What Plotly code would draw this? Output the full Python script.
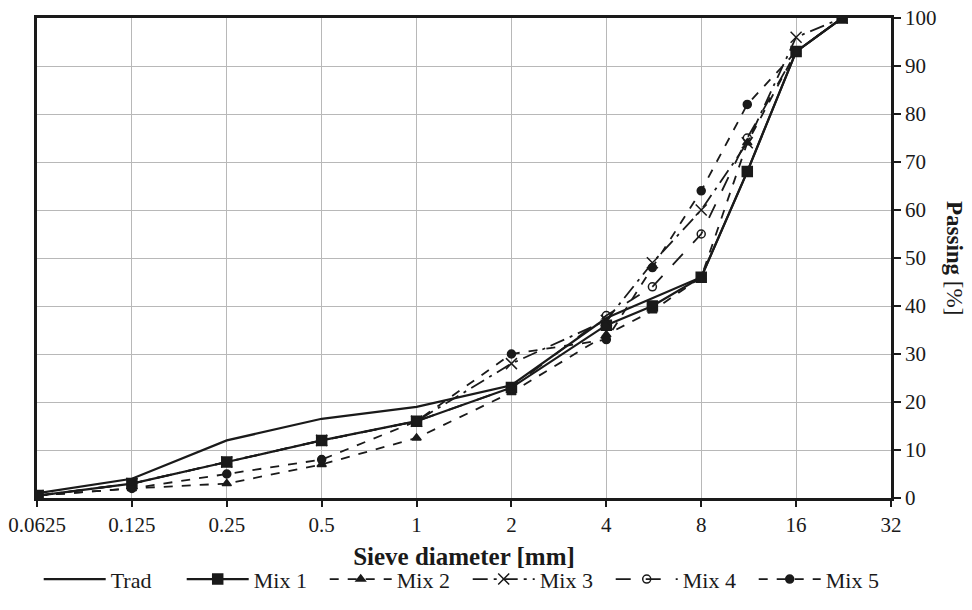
import plotly.graph_objects as go

sieve = [0.063, 0.125, 0.25, 0.5, 1, 2, 4, 5.6, 8, 11.2, 16, 22.4]
trad = [1, 4, 12, 16.5, 19, 23.5, 37.5, None, 46, 68, 93, 100]
mix1 = [0.5, 3, 7.5, 12, 16, 23, 36, 40, 46, 68, 93, 100]
mix2 = [0.5, 2, 3, 7, 12.5, 22, 34, 39, 46, 74, 93, 100]
mix3 = [0.5, 3, 7.5, 12, 16, 28, 37, 49, 60, 74, 96, 100]
mix4 = [0.5, 3, 7.5, 12, 16, 23, 38, 44, 55, 75, 93, 100]
mix5 = [0.5, 2, 5, 8, 16, 30, 33, 48, 64, 82, 93, 100]

xticks = [0.0625, 0.125, 0.25, 0.5, 1, 2, 4, 8, 16, 32]
xticklabels = ["0.0625", "0.125", "0.25", "0.5", "1", "2", "4", "8", "16", "32"]
yticks = list(range(0, 101, 10))

FONT = "Liberation Serif"
fig = go.Figure()

def add(name, y, dash, symbol, msize, width=2):
    fig.add_trace(go.Scatter(
        x=sieve, y=y, name=name, mode="lines+markers" if symbol else "lines",
        connectgaps=True,
        line=dict(color="#1a1a1a", width=width, dash=dash),
        marker=dict(symbol=symbol or "circle", size=msize, color="#1a1a1a",
                    line=dict(color="#1a1a1a", width=1.5)),
    ))

add("Trad", trad, "solid", None, 0, 2.2)
add("Mix 1", mix1, "solid", "square", 10, 2.2)
add("Mix 2", mix2, "dash", "triangle-up", 8, 1.8)
add("Mix 3", mix3, "longdashdot", "x-thin-open", 11, 1.8)
add("Mix 4", mix4, "longdash", "circle-open", 8, 1.8)
add("Mix 5", mix5, "dash", "circle", 8, 1.8)

fig.update_layout(
    width=964, height=602,
    margin=dict(l=29, r=81, t=10, b=112),
    paper_bgcolor="white", plot_bgcolor="white",
    font=dict(family=FONT, size=21, color="#1a1a1a"),
    showlegend=True,
    legend=dict(orientation="h", x=0.002, xanchor="left", y=-0.213, yanchor="bottom",
                font=dict(family=FONT, size=22), traceorder="normal",
                itemwidth=62, entrywidth=66, entrywidthmode="pixels", tracegroupgap=0),
    xaxis=dict(
        type="log", range=[-1.20412, 1.50515], automargin=False,
        tickvals=xticks, ticktext=xticklabels, ticklabeloverflow="allow",
        showgrid=True, gridcolor="#b8b8b8", gridwidth=1,
        showline=True, linecolor="#1a1a1a", linewidth=2.5, mirror=True,
        ticks="outside", ticklen=6, tickcolor="#1a1a1a", tickwidth=1.5,
        tickfont=dict(family=FONT, size=21),
        title=dict(text="<b>Sieve diameter [mm]</b>", font=dict(family=FONT, size=25), standoff=12),
        zeroline=False,
    ),
    yaxis=dict(
        side="right", range=[0, 100], tickvals=yticks, automargin=False,
        ticklabeloverflow="allow",
        showgrid=True, gridcolor="#b8b8b8", gridwidth=1,
        showline=True, linecolor="#1a1a1a", linewidth=2.5, mirror=True,
        ticks="outside", ticklen=7, tickcolor="#1a1a1a", tickwidth=1.5,
        tickfont=dict(family=FONT, size=21),
        zeroline=False,
    ),
    annotations=[dict(
        text="<b>Passing</b> [%]", textangle=90, xref="paper", yref="paper",
        x=1.075, y=0.5, xanchor="center", yanchor="middle", showarrow=False,
        font=dict(family=FONT, size=23, color="#1a1a1a"),
    )],
)

fig.write_html("out.html")
